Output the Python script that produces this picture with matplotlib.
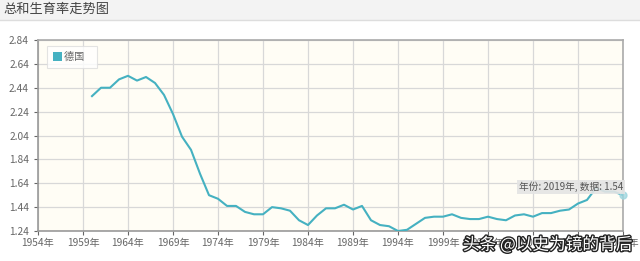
import matplotlib.pyplot as plt
import matplotlib.patheffects as pe
from matplotlib.patches import Patch

plt.rcParams['font.family'] = ['Noto Sans CJK SC', 'DejaVu Sans']

# 德国 总和生育率
anios = list(range(1960, 2020))
valores = [2.37, 2.44, 2.44, 2.51, 2.54, 2.50, 2.53, 2.48, 2.38, 2.22,
           2.03, 1.92, 1.72, 1.54, 1.51, 1.45, 1.45, 1.40, 1.38, 1.38,
           1.44, 1.43, 1.41, 1.33, 1.29, 1.37, 1.43, 1.43, 1.46, 1.42,
           1.45, 1.33, 1.29, 1.28, 1.24, 1.25, 1.30, 1.35, 1.36, 1.36,
           1.38, 1.35, 1.34, 1.34, 1.36, 1.34, 1.33, 1.37, 1.38, 1.36,
           1.39, 1.39, 1.41, 1.42, 1.47, 1.50, 1.60, 1.57, 1.57, 1.54]
yticks = [1.24, 1.44, 1.64, 1.84, 2.04, 2.24, 2.44, 2.64, 2.84]
xticks = list(range(1954, 2020, 5))
serie = "德国"
color_linea = "#45b1c1"

fig = plt.figure(figsize=(6.4, 2.61), dpi=100)
fig.patch.set_facecolor("white")

# cabecera gris
fig.patches.append(plt.Rectangle((0, 1 - 20/261), 1, 20/261, transform=fig.transFigure,
                                 facecolor="#f3f3f3", edgecolor="none", zorder=0))
fig.lines.append(plt.Line2D([0, 1], [1 - 20/261, 1 - 20/261], transform=fig.transFigure,
                            color="#dddddd", lw=1))
fig.text(3/640, 1 - 9/261, "总和生育率走势图", fontsize=9.5, color="#444444", va="center")

ax = fig.add_axes([38/640, 1 - 231/261, (623 - 38)/640, (231 - 40)/261])
ax.set_facecolor("#fffdf5")
ax.plot(anios, valores, color=color_linea, lw=1.5, zorder=3)
ax.plot([anios[-1]], [valores[-1]], "o", ms=5, color="#9fd6df", alpha=0.8, zorder=4, clip_on=False)

ax.set_xlim(1954, 2019)
ax.set_ylim(1.24, 2.84)
ax.set_yticks(yticks)
ax.set_yticklabels([f"{v:.2f}" for v in yticks])
ax.set_xticks(xticks)
ax.set_xticklabels([f"{x}年" for x in xticks])
ax.grid(True, color="#d8d8d8", lw=0.9)
ax.set_axisbelow(True)
for s in ax.spines.values():
    s.set_color("#aaaaaa")
    s.set_linewidth(1.2)
ax.spines["left"].set_color("#999999")
ax.spines["bottom"].set_color("#999999")
ax.tick_params(colors="#666666", labelsize=7.3, length=3, width=0.8)
ax.tick_params(axis="x", pad=2)

leg = ax.legend(handles=[Patch(facecolor=color_linea, edgecolor="none", label=serie)],
                loc="upper left", bbox_to_anchor=(0.015, 0.97), fontsize=7.3, frameon=True,
                handlelength=0.9, handleheight=0.9, borderpad=0.6, handletextpad=0.15,
                fancybox=False, borderaxespad=0)
leg.get_frame().set_edgecolor("#dddddd")
leg.get_frame().set_facecolor("#ffffff")
leg.get_frame().set_linewidth(0.8)
for t in leg.get_texts():
    t.set_color("#666666")
    t.set_text(serie + "   ")

# tooltip
ax.text(2019, 1.565, "年份: 2019年, 数据: 1.54", fontsize=7, color="#555555",
        ha="right", va="bottom",
        bbox=dict(boxstyle="square,pad=0.2", facecolor="#e4e4e4", edgecolor="none", alpha=0.9),
        zorder=5)

# marca de agua
fig.text(632/640, 1 - 245/261, "头条 @以史为镜的背后", fontsize=12, color="white",
         ha="right", va="center",
         path_effects=[pe.withStroke(linewidth=2, foreground="#222222")])

fig.savefig("out.png", dpi=100)
